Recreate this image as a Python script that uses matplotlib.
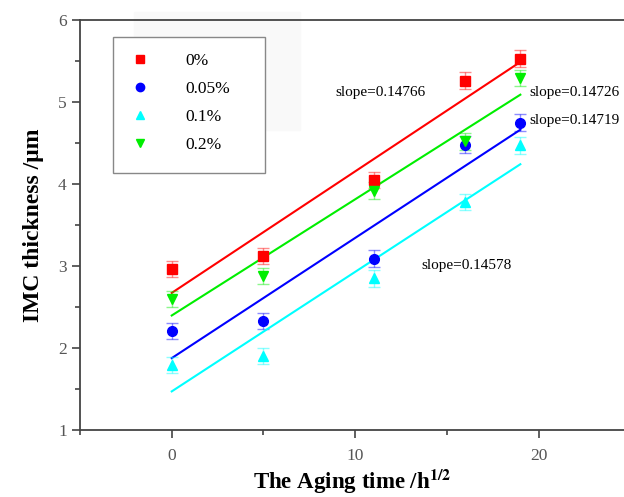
import matplotlib.pyplot as plt
import numpy as np
from matplotlib.patches import Rectangle
from matplotlib.ticker import MultipleLocator

plt.rcParams['font.family'] = ['Liberation Serif', 'DejaVu Serif']
plt.rcParams['mathtext.fontset'] = 'stix'

# data
aging_time = [0, 5, 11, 16, 19]
labels = ['0%', '0.05%', '0.1%', '0.2%']
thick_0 = [2.96, 3.12, 4.05, 5.26, 5.53]
thick_005 = [2.21, 2.33, 3.09, 4.48, 4.75]
thick_01 = [1.79, 1.90, 2.85, 3.78, 4.47]
thick_02 = [2.60, 2.88, 3.92, 4.52, 5.29]
err = [0.10, 0.10, 0.10, 0.10, 0.10]
slope_texts = ['slope=0.14766', 'slope=0.14719', 'slope=0.14578', 'slope=0.14726']

series = [thick_0, thick_005, thick_01, thick_02]
colors = ['#ff0000', '#0000ff', '#00ffff', '#00ee00']
markers = ['s', 'o', '^', 'v']
text_pos = [(8.9, 5.12), (19.5, 4.77), (13.6, 3.0), (19.5, 5.12)]

fig = plt.figure(figsize=(6.24, 4.97), dpi=100)
# faint grey patch seen behind the legend in the original
fig.patches.append(Rectangle((134/624, 1-130/497), 166/624, 118/497,
                             transform=fig.transFigure, color='#f9f9f9', zorder=-5))
ax = fig.add_axes([80/624, 67/497, 544/624, 410/497])
ax.set_zorder(1)
ax.patch.set_alpha(0)

x = np.array(aging_time)
handles = []
for ys, c, m, lab in zip(series, colors, markers, labels):
    ax.errorbar(x, ys, yerr=err, fmt='none', ecolor=c, alpha=0.45, elinewidth=1,
                capsize=4, capthick=1, zorder=2)
    h, = ax.plot(x, ys, linestyle='none', marker=m, color=c, markersize=7, label=lab, zorder=3)
    handles.append(h)
    k, b = np.polyfit(x, ys, 1)
    ax.plot([x[0], x[-1]], [b, k * x[-1] + b], color=c, linewidth=1.5, zorder=2)

for t, (tx, ty) in zip(slope_texts, text_pos):
    ax.text(tx, ty, t, fontsize=11, va='center', ha='left')

ax.set_xlim(-5, 24.65)
ax.set_ylim(1, 6)
ax.xaxis.set_major_locator(MultipleLocator(10))
ax.xaxis.set_minor_locator(MultipleLocator(5))
ax.yaxis.set_major_locator(MultipleLocator(1))
ax.yaxis.set_minor_locator(MultipleLocator(0.5))
ax.tick_params(which='both', direction='out', colors='#444444', labelcolor='#555555',
               labelsize=12.5, width=1.2)
ax.tick_params(which='major', length=6)
ax.tick_params(which='minor', length=3.5)
ax.tick_params(axis='x', pad=7)
for s in ['left', 'bottom', 'top']:
    ax.spines[s].set_color('#444444')
    ax.spines[s].set_linewidth(1.3)
ax.spines['right'].set_visible(False)

ax.set_xlabel('The Aging time /h$^{\\mathbf{1/2}}$', fontsize=16.5, fontweight='bold', labelpad=3)
ax.set_ylabel('IMC thickness /μm', fontsize=17, fontweight='bold', labelpad=10)

# legend box drawn separately so its padding matches the original
ax.add_patch(Rectangle((0.0607, 0.627), 0.279, 0.331, transform=ax.transAxes,
                       facecolor='white', edgecolor='#888888', linewidth=1.0, zorder=4))
leg = ax.legend(handles=handles, loc='upper left', bbox_to_anchor=(0.092, 0.92),
                fontsize=12.5, frameon=False, handlelength=1.2,
                handletextpad=2.0, labelspacing=0.68, borderpad=0, borderaxespad=0)
leg.set_zorder(5)
for lh in leg.legend_handles:
    lh.set_markersize(6)

plt.savefig('out.png', dpi=100)
